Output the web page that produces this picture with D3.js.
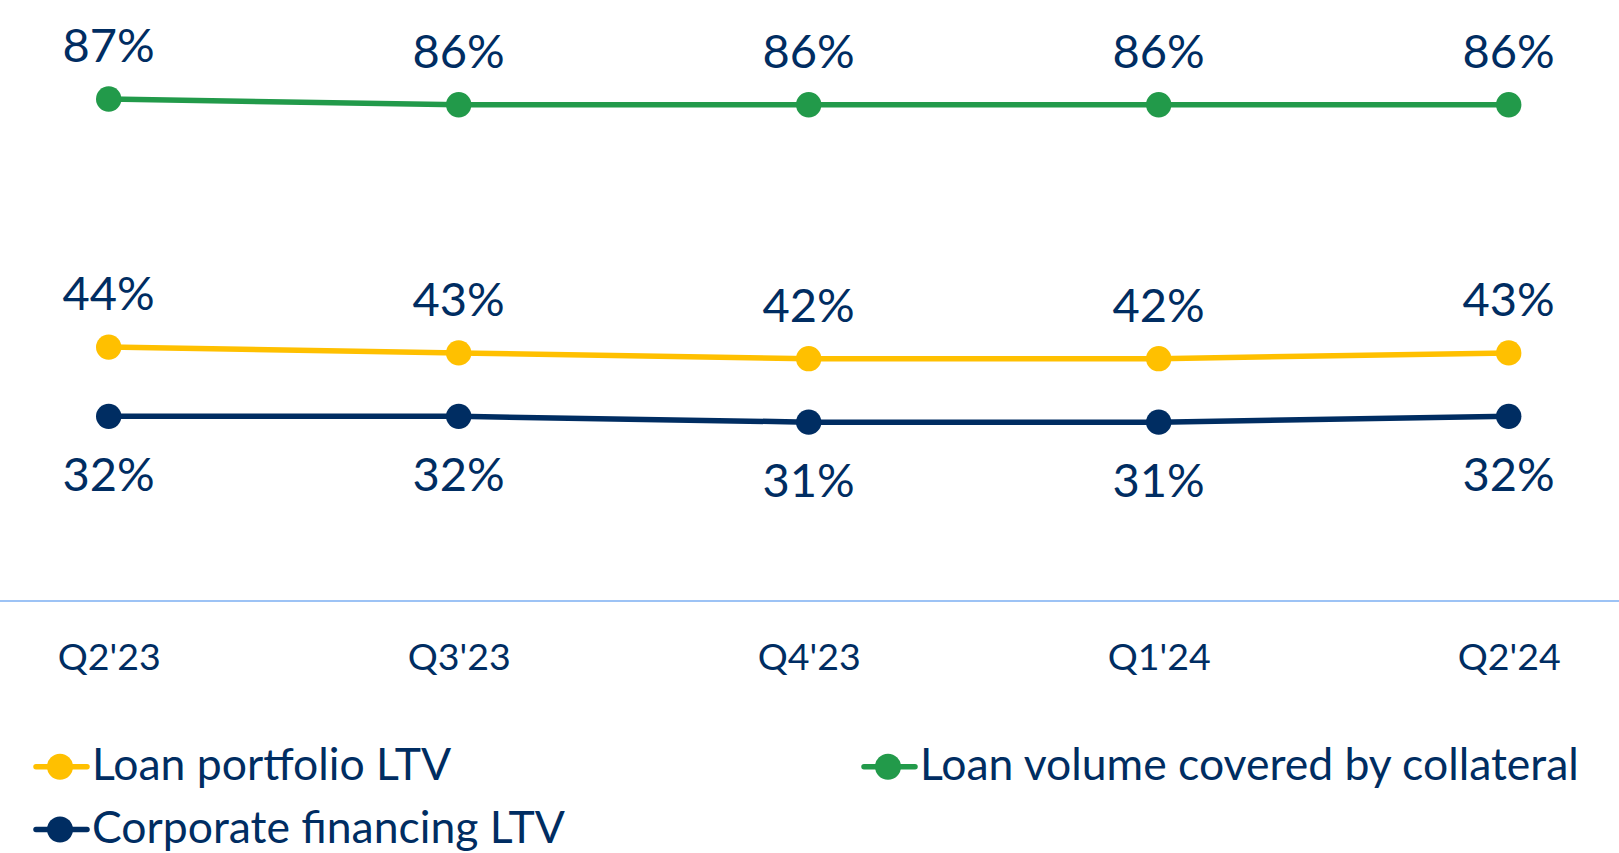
<!DOCTYPE html>
<html>
<head>
<meta charset="utf-8">
<script src="https://cdn.jsdelivr.net/npm/d3@7"></script>
<style>
    body { margin: 0; background: #ffffff; }
    #ltv-chart text { font-family: Lato, "Open Sans", sans-serif; fill: #002D62; }
</style>
</head>
<body>
<div id="ltv-chart"></div>
<script>
// quarters on the x axis
var quarters = ["Q2'23", "Q3'23", "Q4'23", "Q1'24", "Q2'24"];

// series values in percent
var collateralCoverage = [87, 86, 86, 86, 86];
var loanPortfolioLtv = [44, 43, 42, 42, 43];
var corporateFinancingLtv = [32, 32, 31, 31, 32];

var seriesNames = ["Loan portfolio LTV", "Corporate financing LTV", "Loan volume covered by collateral"];
var seriesColors = ["#FFC000", "#002D62", "#229A4A"];

/**
 * Constructor for the LTV line chart
 */
function LtvChart() {
    var self = this;
    self.init();
}

/**
 * Builds scales, axis, lines and legend
 */
LtvChart.prototype.init = function () {
    var self = this;
    self.svgWidth = 1619;
    self.svgHeight = 853;

    self.svg = d3.select("#ltv-chart").append("svg")
        .attr("width", self.svgWidth)
        .attr("height", self.svgHeight);

    self.xScale = d3.scalePoint()
        .domain(quarters)
        .range([108.7, 1508.7]);
    self.yScale = d3.scaleLinear()
        .domain([0, 100])
        .range([601, 24]);

    // baseline runs across the whole width
    self.svg.append("line")
        .attr("x1", 0)
        .attr("x2", self.svgWidth)
        .attr("y1", self.yScale(0))
        .attr("y2", self.yScale(0))
        .style("stroke", "#9DC3F5")
        .style("stroke-width", 2);

    var xAxis = d3.axisBottom(self.xScale).tickSize(0).tickPadding(0);
    var axisG = self.svg.append("g")
        .attr("id", "xAxis")
        .attr("transform", "translate(0," + self.yScale(0) + ")")
        .call(xAxis);
    axisG.select(".domain").remove();
    axisG.selectAll("text")
        .attr("dy", null)
        .attr("y", 69)
        .style("font-size", "37.5px");

    var series = [
        { name: seriesNames[2], values: collateralCoverage, color: seriesColors[2], above: true },
        { name: seriesNames[0], values: loanPortfolioLtv, color: seriesColors[0], above: true },
        { name: seriesNames[1], values: corporateFinancingLtv, color: seriesColors[1], above: false }
    ];

    var line = d3.line()
        .x(function (d, i) { return self.xScale(quarters[i]); })
        .y(function (d) { return self.yScale(d); });

    series.forEach(function (s) {
        var g = self.svg.append("g").attr("class", "series");
        g.append("path")
            .datum(s.values)
            .attr("d", line)
            .style("fill", "none")
            .style("stroke", s.color)
            .style("stroke-width", 5.5);
        g.selectAll("circle")
            .data(s.values)
            .enter().append("circle")
            .attr("cx", function (d, i) { return self.xScale(quarters[i]); })
            .attr("cy", function (d) { return self.yScale(d); })
            .attr("r", 12.7)
            .style("fill", s.color);
        g.selectAll("text")
            .data(s.values)
            .enter().append("text")
            .attr("x", function (d, i) { return self.xScale(quarters[i]); })
            .attr("y", function (d) { return self.yScale(d) + (s.above ? -37 : 75); })
            .attr("text-anchor", "middle")
            .style("font-size", "47px")
            .text(function (d) { return d + "%"; });
    });

    // legend: two columns, yellow and navy on the left, green on the right
    var legendItems = [
        { name: seriesNames[0], color: seriesColors[0], x: 36, y: 766.7 },
        { name: seriesNames[1], color: seriesColors[1], x: 36, y: 829.5 },
        { name: seriesNames[2], color: seriesColors[2], x: 864, y: 766.7 }
    ];
    var legend = self.svg.append("g").attr("id", "legend");
    legendItems.forEach(function (d) {
        var item = legend.append("g").attr("transform", "translate(" + d.x + "," + d.y + ")");
        item.append("line")
            .attr("x1", 0).attr("x2", 51)
            .attr("y1", 0).attr("y2", 0)
            .style("stroke", d.color)
            .style("stroke-width", 5.5)
            .style("stroke-linecap", "round");
        item.append("circle")
            .attr("cx", 24).attr("cy", 0)
            .attr("r", 13)
            .style("fill", d.color);
        item.append("text")
            .attr("x", 56)
            .attr("y", 13.5)
            .style("font-size", "44.5px")
            .text(d.name);
    });
};

new LtvChart();
</script>
</body>
</html>
